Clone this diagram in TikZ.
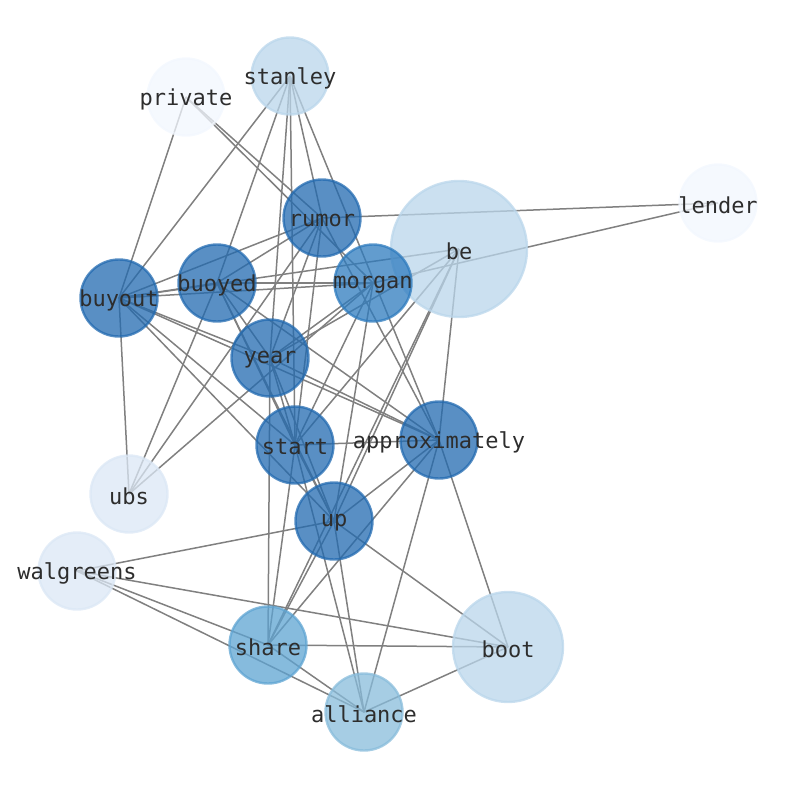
\documentclass[tikz,border=0pt]{standalone}
\usepackage{fontspec}
\newfontfamily\lab{DejaVu Sans Mono}
\pgfdeclarelayer{bg}
\pgfsetlayers{bg,main}
\definecolor{cdark}{RGB}{34,106,176}
\definecolor{cmorg}{RGB}{46,123,190}
\definecolor{cshare}{RGB}{94,164,210}
\definecolor{call}{RGB}{136,188,219}
\definecolor{clight}{RGB}{186,214,235}
\definecolor{cpale}{RGB}{219,231,245}
\definecolor{cwhite}{RGB}{242,247,254}
\definecolor{ctext}{RGB}{45,45,45}
\begin{document}
\begin{tikzpicture}[x=1pt,y=-1pt,
  edge/.style={draw=black!50, line width=1.5pt},
  nd/.style={circle, inner sep=0pt, line width=2.4pt, minimum size=#1,
    fill opacity=0.75, draw opacity=0.75},
  nd/.default=77pt,
  lbl/.style={text=ctext, font=\lab\fontsize{22}{22}\selectfont, inner sep=0pt, yshift=-2pt}]
\useasboundingbox (0,0) rectangle (794,790);
% light, large nodes first
\node[nd=136pt, fill=clight, draw=clight] (be) at (459,249) {};
\node[nd=110pt, fill=clight, draw=clight] (boot) at (508,647) {};
\node[nd, fill=clight, draw=clight] (stanley) at (290,76) {};
\node[nd, fill=cwhite, draw=cwhite] (private) at (186,97) {};
\node[nd, fill=cwhite, draw=cwhite] (lender) at (718,203) {};
\node[nd, fill=cpale, draw=cpale] (ubs) at (129,494) {};
\node[nd, fill=cpale, draw=cpale] (walgreens) at (77,571) {};
\node[nd, fill=call, draw=call] (alliance) at (364,712) {};
\node[nd, fill=cshare, draw=cshare] (share) at (268,645) {};
\node[nd, fill=cdark, draw=cdark] (rumor) at (322,218) {};
\node[nd, fill=cdark, draw=cdark] (buoyed) at (217,283) {};
\node[nd, fill=cmorg, draw=cmorg] (morgan) at (373,283) {};
\node[nd, fill=cdark, draw=cdark] (buyout) at (119,298) {};
\node[nd, fill=cdark, draw=cdark] (year) at (270,358) {};
\node[nd, fill=cdark, draw=cdark] (start) at (295,445) {};
\node[nd, fill=cdark, draw=cdark] (approximately) at (439,440) {};
\node[nd, fill=cdark, draw=cdark] (up) at (334,521) {};
% labels
\foreach \n in {be,boot,stanley,private,lender,ubs,walgreens,alliance,share,rumor,buoyed,morgan,buyout,year,start,approximately,up}
  \node[lbl] (l-\n) at (\n.center) {\n};
\begin{pgfonlayer}{bg}
\foreach \a/\b in {private/buyout, private/rumor, private/morgan,
  stanley/buyout, stanley/buoyed, stanley/year, stanley/rumor, stanley/approximately, stanley/start,
  lender/rumor, lender/morgan,
  rumor/buyout, rumor/buoyed, rumor/year, rumor/start, rumor/ubs, rumor/approximately,
  buoyed/buyout, buoyed/morgan, buoyed/year, buoyed/start, buoyed/up, buoyed/approximately, buoyed/ubs,
  buyout/morgan, buyout/year, buyout/start, buyout/up, buyout/approximately, buyout/ubs, buyout/be,
  morgan/year, morgan/start, morgan/ubs, morgan/up,
  be/year, be/start, be/up, be/approximately, be/share,
  year/approximately, year/start, year/share, year/up,
  start/approximately, start/share, start/alliance, start/up,
  approximately/up, approximately/share, approximately/alliance, approximately/boot,
  up/walgreens, up/boot, up/alliance, up/share,
  walgreens/share, walgreens/alliance, walgreens/boot,
  share/alliance, share/boot, alliance/boot}
  \draw[edge] (\a.center) -- (\b.center);
\end{pgfonlayer}
\end{tikzpicture}
\end{document}
